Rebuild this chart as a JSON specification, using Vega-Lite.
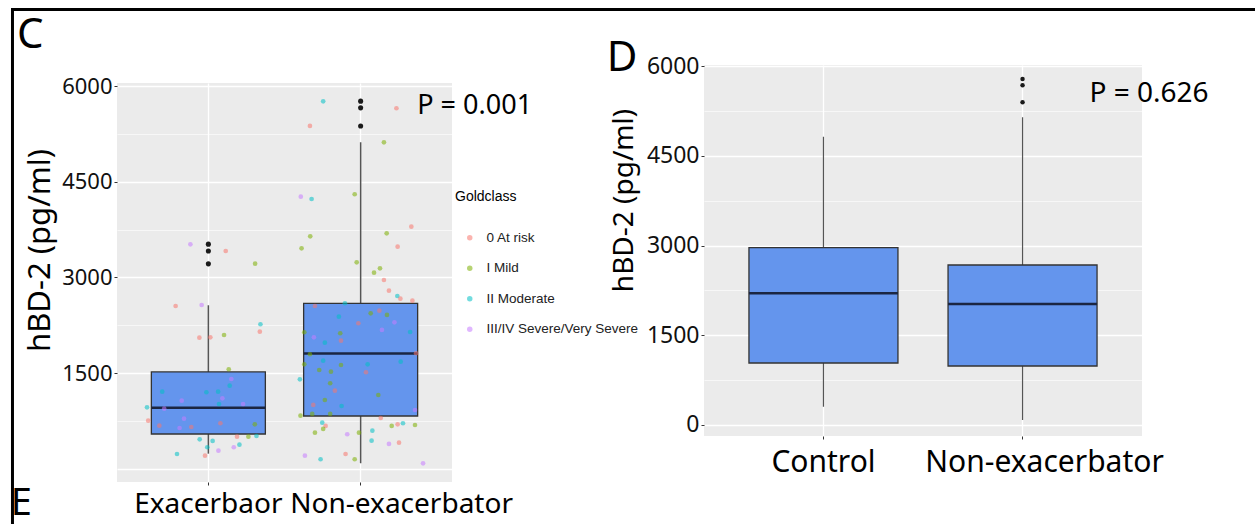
{
  "$schema": "https://vega.github.io/schema/vega-lite/v6.json",
  "background": "white",
  "padding": {"left": 9, "top": 8, "right": 0, "bottom": 0},
  "config": {
    "view": {"stroke": null},
    "font": "Noto Sans",
    "axis": {"labelFont": "Noto Sans", "titleFont": "Noto Sans", "titleFontWeight": "normal", "labelColor": "#111111", "titleColor": "#000000", "domain": false, "tickColor": "#333333", "tickSize": 3, "gridColor": "#FFFFFF", "labelLimit": 0}
  },
  "datasets": {
    "cBoxes": [
      {"group": "Exacerbaor", "lower": 240, "q1": 548, "median": 958, "q3": 1520, "upper": 2565},
      {"group": "Non-exacerbator", "lower": 89, "q1": 830, "median": 1810, "q3": 2596, "upper": 5120}
    ],
    "cOutliers": [
      {"group": "Exacerbaor", "value": 3522},
      {"group": "Exacerbaor", "value": 3415},
      {"group": "Exacerbaor", "value": 3214},
      {"group": "Non-exacerbator", "value": 5763},
      {"group": "Non-exacerbator", "value": 5658},
      {"group": "Non-exacerbator", "value": 5374}
    ],
    "cPoints": [
      {"group": "Exacerbaor", "jitter": -0.118, "value": 3520, "gold": "III/IV Severe/Very Severe"},
      {"group": "Exacerbaor", "jitter": 0.114, "value": 3415, "gold": "0 At risk"},
      {"group": "Exacerbaor", "jitter": 0.307, "value": 3217, "gold": "I Mild"},
      {"group": "Exacerbaor", "jitter": -0.215, "value": 2553, "gold": "0 At risk"},
      {"group": "Exacerbaor", "jitter": -0.044, "value": 2569, "gold": "III/IV Severe/Very Severe"},
      {"group": "Exacerbaor", "jitter": 0.342, "value": 2267, "gold": "II Moderate"},
      {"group": "Exacerbaor", "jitter": 0.338, "value": 2151, "gold": "0 At risk"},
      {"group": "Exacerbaor", "jitter": 0.103, "value": 2099, "gold": "I Mild"},
      {"group": "Exacerbaor", "jitter": -0.059, "value": 2057, "gold": "0 At risk"},
      {"group": "Exacerbaor", "jitter": 0.013, "value": 2063, "gold": "0 At risk"},
      {"group": "Exacerbaor", "jitter": 0.134, "value": 1562, "gold": "I Mild"},
      {"group": "Exacerbaor", "jitter": 0.151, "value": 1410, "gold": "III/IV Severe/Very Severe"},
      {"group": "Exacerbaor", "jitter": -0.303, "value": 1211, "gold": "II Moderate"},
      {"group": "Exacerbaor", "jitter": -0.013, "value": 1202, "gold": "II Moderate"},
      {"group": "Exacerbaor", "jitter": 0.064, "value": 1211, "gold": "II Moderate"},
      {"group": "Exacerbaor", "jitter": 0.14, "value": 1305, "gold": "II Moderate"},
      {"group": "Exacerbaor", "jitter": 0.092, "value": 1107, "gold": "III/IV Severe/Very Severe"},
      {"group": "Exacerbaor", "jitter": -0.175, "value": 1070, "gold": "III/IV Severe/Very Severe"},
      {"group": "Exacerbaor", "jitter": 0.07, "value": 1018, "gold": "II Moderate"},
      {"group": "Exacerbaor", "jitter": 0.228, "value": 1018, "gold": "III/IV Severe/Very Severe"},
      {"group": "Exacerbaor", "jitter": -0.403, "value": 966, "gold": "II Moderate"},
      {"group": "Exacerbaor", "jitter": -0.29, "value": 945, "gold": "III/IV Severe/Very Severe"},
      {"group": "Exacerbaor", "jitter": -0.395, "value": 757, "gold": "0 At risk"},
      {"group": "Exacerbaor", "jitter": -0.16, "value": 788, "gold": "III/IV Severe/Very Severe"},
      {"group": "Exacerbaor", "jitter": 0.079, "value": 716, "gold": "0 At risk"},
      {"group": "Exacerbaor", "jitter": -0.322, "value": 679, "gold": "0 At risk"},
      {"group": "Exacerbaor", "jitter": -0.189, "value": 642, "gold": "III/IV Severe/Very Severe"},
      {"group": "Exacerbaor", "jitter": -0.112, "value": 658, "gold": "0 At risk"},
      {"group": "Exacerbaor", "jitter": 0.305, "value": 700, "gold": "I Mild"},
      {"group": "Exacerbaor", "jitter": 0.188, "value": 506, "gold": "0 At risk"},
      {"group": "Exacerbaor", "jitter": 0.263, "value": 506, "gold": "I Mild"},
      {"group": "Exacerbaor", "jitter": 0.316, "value": 517, "gold": "II Moderate"},
      {"group": "Exacerbaor", "jitter": -0.057, "value": 465, "gold": "II Moderate"},
      {"group": "Exacerbaor", "jitter": 0.028, "value": 439, "gold": "II Moderate"},
      {"group": "Exacerbaor", "jitter": -0.007, "value": 340, "gold": "II Moderate"},
      {"group": "Exacerbaor", "jitter": 0.066, "value": 287, "gold": "III/IV Severe/Very Severe"},
      {"group": "Exacerbaor", "jitter": 0.167, "value": 340, "gold": "III/IV Severe/Very Severe"},
      {"group": "Exacerbaor", "jitter": 0.204, "value": 381, "gold": "II Moderate"},
      {"group": "Exacerbaor", "jitter": -0.206, "value": 235, "gold": "II Moderate"},
      {"group": "Exacerbaor", "jitter": -0.022, "value": 208, "gold": "0 At risk"},
      {"group": "Non-exacerbator", "jitter": -0.246, "value": 5760, "gold": "II Moderate"},
      {"group": "Non-exacerbator", "jitter": 0.235, "value": 5651, "gold": "0 At risk"},
      {"group": "Non-exacerbator", "jitter": -0.333, "value": 5374, "gold": "0 At risk"},
      {"group": "Non-exacerbator", "jitter": 0.153, "value": 5118, "gold": "I Mild"},
      {"group": "Non-exacerbator", "jitter": -0.393, "value": 4266, "gold": "III/IV Severe/Very Severe"},
      {"group": "Non-exacerbator", "jitter": -0.322, "value": 4230, "gold": "II Moderate"},
      {"group": "Non-exacerbator", "jitter": -0.039, "value": 4304, "gold": "I Mild"},
      {"group": "Non-exacerbator", "jitter": 0.333, "value": 3796, "gold": "0 At risk"},
      {"group": "Non-exacerbator", "jitter": 0.171, "value": 3692, "gold": "I Mild"},
      {"group": "Non-exacerbator", "jitter": -0.331, "value": 3645, "gold": "I Mild"},
      {"group": "Non-exacerbator", "jitter": 0.243, "value": 3483, "gold": "0 At risk"},
      {"group": "Non-exacerbator", "jitter": -0.388, "value": 3457, "gold": "I Mild"},
      {"group": "Non-exacerbator", "jitter": -0.026, "value": 3238, "gold": "I Mild"},
      {"group": "Non-exacerbator", "jitter": 0.088, "value": 3075, "gold": "I Mild"},
      {"group": "Non-exacerbator", "jitter": 0.127, "value": 3144, "gold": "I Mild"},
      {"group": "Non-exacerbator", "jitter": 0.153, "value": 2961, "gold": "0 At risk"},
      {"group": "Non-exacerbator", "jitter": 0.186, "value": 2793, "gold": "0 At risk"},
      {"group": "Non-exacerbator", "jitter": 0.241, "value": 2710, "gold": "II Moderate"},
      {"group": "Non-exacerbator", "jitter": 0.261, "value": 2668, "gold": "0 At risk"},
      {"group": "Non-exacerbator", "jitter": 0.34, "value": 2637, "gold": "0 At risk"},
      {"group": "Non-exacerbator", "jitter": -0.3, "value": 2553, "gold": "0 At risk"},
      {"group": "Non-exacerbator", "jitter": -0.103, "value": 2596, "gold": "II Moderate"},
      {"group": "Non-exacerbator", "jitter": -0.143, "value": 2386, "gold": "II Moderate"},
      {"group": "Non-exacerbator", "jitter": 0.066, "value": 2439, "gold": "I Mild"},
      {"group": "Non-exacerbator", "jitter": 0.123, "value": 2480, "gold": "0 At risk"},
      {"group": "Non-exacerbator", "jitter": 0.173, "value": 2413, "gold": "I Mild"},
      {"group": "Non-exacerbator", "jitter": -0.015, "value": 2283, "gold": "0 At risk"},
      {"group": "Non-exacerbator", "jitter": 0.222, "value": 2298, "gold": "III/IV Severe/Very Severe"},
      {"group": "Non-exacerbator", "jitter": 0.14, "value": 2178, "gold": "III/IV Severe/Very Severe"},
      {"group": "Non-exacerbator", "jitter": 0.325, "value": 2146, "gold": "II Moderate"},
      {"group": "Non-exacerbator", "jitter": -0.37, "value": 2142, "gold": "I Mild"},
      {"group": "Non-exacerbator", "jitter": -0.307, "value": 2063, "gold": "III/IV Severe/Very Severe"},
      {"group": "Non-exacerbator", "jitter": -0.134, "value": 2126, "gold": "I Mild"},
      {"group": "Non-exacerbator", "jitter": -0.129, "value": 2010, "gold": "0 At risk"},
      {"group": "Non-exacerbator", "jitter": -0.235, "value": 1979, "gold": "II Moderate"},
      {"group": "Non-exacerbator", "jitter": -0.333, "value": 1797, "gold": "I Mild"},
      {"group": "Non-exacerbator", "jitter": 0.364, "value": 1813, "gold": "0 At risk"},
      {"group": "Non-exacerbator", "jitter": -0.246, "value": 1697, "gold": "II Moderate"},
      {"group": "Non-exacerbator", "jitter": -0.37, "value": 1640, "gold": "I Mild"},
      {"group": "Non-exacerbator", "jitter": -0.272, "value": 1551, "gold": "I Mild"},
      {"group": "Non-exacerbator", "jitter": -0.195, "value": 1524, "gold": "I Mild"},
      {"group": "Non-exacerbator", "jitter": -0.129, "value": 1629, "gold": "I Mild"},
      {"group": "Non-exacerbator", "jitter": 0.046, "value": 1640, "gold": "II Moderate"},
      {"group": "Non-exacerbator", "jitter": 0.263, "value": 1681, "gold": "II Moderate"},
      {"group": "Non-exacerbator", "jitter": 0.035, "value": 1515, "gold": "0 At risk"},
      {"group": "Non-exacerbator", "jitter": -0.399, "value": 1405, "gold": "II Moderate"},
      {"group": "Non-exacerbator", "jitter": -0.2, "value": 1343, "gold": "I Mild"},
      {"group": "Non-exacerbator", "jitter": -0.169, "value": 1227, "gold": "0 At risk"},
      {"group": "Non-exacerbator", "jitter": 0.116, "value": 1159, "gold": "I Mild"},
      {"group": "Non-exacerbator", "jitter": -0.235, "value": 1081, "gold": "I Mild"},
      {"group": "Non-exacerbator", "jitter": -0.311, "value": 1003, "gold": "0 At risk"},
      {"group": "Non-exacerbator", "jitter": -0.125, "value": 987, "gold": "II Moderate"},
      {"group": "Non-exacerbator", "jitter": -0.395, "value": 835, "gold": "I Mild"},
      {"group": "Non-exacerbator", "jitter": -0.318, "value": 862, "gold": "I Mild"},
      {"group": "Non-exacerbator", "jitter": -0.2, "value": 862, "gold": "I Mild"},
      {"group": "Non-exacerbator", "jitter": 0.357, "value": 924, "gold": "III/IV Severe/Very Severe"},
      {"group": "Non-exacerbator", "jitter": 0.132, "value": 799, "gold": "0 At risk"},
      {"group": "Non-exacerbator", "jitter": -0.252, "value": 725, "gold": "II Moderate"},
      {"group": "Non-exacerbator", "jitter": -0.23, "value": 674, "gold": "0 At risk"},
      {"group": "Non-exacerbator", "jitter": -0.246, "value": 627, "gold": "I Mild"},
      {"group": "Non-exacerbator", "jitter": -0.3, "value": 569, "gold": "I Mild"},
      {"group": "Non-exacerbator", "jitter": -0.088, "value": 544, "gold": "III/IV Severe/Very Severe"},
      {"group": "Non-exacerbator", "jitter": -0.011, "value": 569, "gold": "I Mild"},
      {"group": "Non-exacerbator", "jitter": 0.077, "value": 600, "gold": "II Moderate"},
      {"group": "Non-exacerbator", "jitter": 0.204, "value": 674, "gold": "I Mild"},
      {"group": "Non-exacerbator", "jitter": 0.243, "value": 700, "gold": "0 At risk"},
      {"group": "Non-exacerbator", "jitter": 0.278, "value": 716, "gold": "II Moderate"},
      {"group": "Non-exacerbator", "jitter": 0.357, "value": 689, "gold": "I Mild"},
      {"group": "Non-exacerbator", "jitter": 0.072, "value": 444, "gold": "II Moderate"},
      {"group": "Non-exacerbator", "jitter": 0.186, "value": 392, "gold": "III/IV Severe/Very Severe"},
      {"group": "Non-exacerbator", "jitter": 0.252, "value": 412, "gold": "0 At risk"},
      {"group": "Non-exacerbator", "jitter": -0.366, "value": 208, "gold": "III/IV Severe/Very Severe"},
      {"group": "Non-exacerbator", "jitter": -0.263, "value": 152, "gold": "II Moderate"},
      {"group": "Non-exacerbator", "jitter": -0.099, "value": 235, "gold": "0 At risk"},
      {"group": "Non-exacerbator", "jitter": -0.039, "value": 152, "gold": "I Mild"},
      {"group": "Non-exacerbator", "jitter": 0.41, "value": 89, "gold": "III/IV Severe/Very Severe"}
    ],
    "dBoxes": [
      {"group": "Control", "lower": 306, "q1": 1036, "median": 2201, "q3": 2963, "upper": 4819},
      {"group": "Non-exacerbator", "lower": 84, "q1": 986, "median": 2022, "q3": 2674, "upper": 5143}
    ],
    "dOutliers": [
      {"group": "Non-exacerbator", "value": 5783},
      {"group": "Non-exacerbator", "value": 5677},
      {"group": "Non-exacerbator", "value": 5393}
    ]
  },
  "bounds": "flush",
  "spacing": 587,
  "resolve": {"scale": {"x": "independent", "y": "independent", "xOffset": "independent"}},
  "hconcat": [
    {
      "bounds": "flush",
      "spacing": 0,
      "vconcat": [
        {"width": 335, "height": 18, "data": {"values": []}, "mark": "point"},
        {
          "width": 335,
          "height": 399,
          "view": {"fill": "#EBEBEB", "stroke": null},
          "resolve": {"scale": {"x": "independent"}, "axis": {"x": "independent"}},
          "layer": [
            {
              "encoding": {
                "x": {
                  "field": "group", "type": "nominal",
                  "scale": {"domain": ["Exacerbaor", "Non-exacerbator"], "paddingInner": 0, "paddingOuter": 0.1},
                  "axis": {
                    "title": null, "labelAngle": 0, "labelFontSize": 28, "labelColor": "#000000", "labelPadding": 5,
                    "grid": true, "gridWidth": 1.3,
                    "labelOffset": {"condition": {"test": "datum.value == 'Non-exacerbator'", "value": 41}, "value": 0}
                  }
                }
              },
              "layer": [
                {
                  "data": {"name": "cBoxes"},
                  "mark": {"type": "rule", "color": "#555555", "strokeWidth": 1.5},
                  "encoding": {
                    "y": {
                      "field": "lower", "type": "quantitative",
                      "scale": {"domain": [-204, 6047], "nice": false, "zero": false},
                      "axis": {
                        "values": [0, 750, 1500, 2250, 3000, 3750, 4500, 5250, 6000],
                        "format": "d",
                        "labelExpr": "(datum.value % 1500 == 0 && datum.value > 0) ? datum.label : ''",
                        "tickOpacity": {"condition": {"test": "datum.value % 1500 == 0 && datum.value > 0", "value": 1}, "value": 0},
                        "gridWidth": {"condition": {"test": "datum.value % 1500 == 0", "value": 1.3}, "value": 0.6},
                        "labelFontSize": 22, "labelPadding": 2,
                        "title": "hBD-2 (pg/ml)", "titleFontSize": 31, "titlePadding": 5, "titleY": 167
                      }
                    },
                    "y2": {"field": "upper"}
                  }
                },
                {
                  "data": {"name": "cBoxes"},
                  "mark": {"type": "bar", "width": 114, "fill": "#6495ED", "stroke": "#333333", "strokeWidth": 1.3},
                  "encoding": {"y": {"field": "q1", "type": "quantitative"}, "y2": {"field": "q3"}}
                },
                {
                  "data": {"name": "cBoxes"},
                  "mark": {"type": "tick", "size": 114, "thickness": 2.5, "color": "#1B2642", "opacity": 1},
                  "encoding": {"y": {"field": "median", "type": "quantitative"}}
                },
                {
                  "data": {"name": "cOutliers"},
                  "mark": {"type": "circle", "size": 26, "color": "#1A1A1A", "opacity": 1},
                  "encoding": {"y": {"field": "value", "type": "quantitative"}}
                },
                {
                  "data": {"name": "cPoints"},
                  "mark": {"type": "circle", "size": 22, "opacity": 0.55},
                  "encoding": {
                    "y": {"field": "value", "type": "quantitative"},
                    "xOffset": {"field": "jitter", "type": "quantitative", "scale": {"domain": [-0.5, 0.5]}},
                    "color": {
                      "field": "gold", "type": "nominal",
                      "scale": {"domain": ["0 At risk", "I Mild", "II Moderate", "III/IV Severe/Very Severe"], "range": ["#F8766D", "#7CAE00", "#00BFC4", "#C77CFF"]},
                      "legend": {
                        "title": "Goldclass", "orient": "none", "legendX": 338, "legendY": 125, "padding": 0,
                        "titleFont": "Liberation Sans", "titleFontSize": 14, "titleFontWeight": "normal", "titleColor": "#000000", "titlePadding": 27,
                        "labelFont": "Liberation Sans", "labelFontSize": 13.5, "labelColor": "#222222",
                        "symbolType": "circle", "symbolSize": 30, "rowPadding": 15.5, "labelOffset": 10, "symbolOffset": 8
                      }
                    }
                  }
                },
                {
                  "data": {"values": [{}]},
                  "mark": {"type": "text", "fontSize": 27, "align": "center", "baseline": "middle", "color": "#000000"},
                  "encoding": {"x": {"datum": "Non-exacerbator"}, "xOffset": {"datum": 0.749}, "y": {"datum": 5687}, "text": {"value": "P = 0.001"}}
                },
                {
                  "data": {"values": [{}]},
                  "mark": {"type": "text", "fontSize": 42, "align": "center", "baseline": "middle", "color": "#000000"},
                  "encoding": {"x": {"datum": "Exacerbaor"}, "xOffset": {"datum": -1.169}, "y": {"datum": 6799}, "text": {"value": "C"}}
                },
                {
                  "data": {"values": [{}]},
                  "mark": {"type": "text", "fontSize": 38, "align": "center", "baseline": "middle", "color": "#000000"},
                  "encoding": {"x": {"datum": "Exacerbaor"}, "xOffset": {"datum": -1.228}, "y": {"datum": -548}, "text": {"value": "E"}}
                }
              ]
            },
            {
              "data": {"values": [{}]},
              "mark": {"type": "rule", "color": "#000000", "strokeWidth": 3},
              "encoding": {
                "x": {"datum": -0.3164, "type": "quantitative", "scale": {"domain": [0, 1]}, "axis": null},
                "x2": {"datum": 3.4},
                "y": {"datum": 7198, "type": "quantitative"}
              }
            },
            {
              "data": {"values": [{}]},
              "mark": {"type": "rule", "color": "#000000", "strokeWidth": 3},
              "encoding": {
                "x": {"datum": -0.312, "type": "quantitative", "scale": {"domain": [0, 1]}, "axis": null},
                "y": {"datum": 7198, "type": "quantitative"},
                "y2": {"datum": -862}
              }
            }
          ]
        }
      ]
    },
    {
      "width": 438,
      "height": 371,
      "view": {"fill": "#EBEBEB", "stroke": null},
      "encoding": {
        "x": {
          "field": "group", "type": "nominal",
          "scale": {"domain": ["Control", "Non-exacerbator"], "paddingInner": 0, "paddingOuter": 0.1},
          "axis": {
            "title": null, "labelAngle": 0, "labelFontSize": 30, "labelColor": "#000000", "labelPadding": 8,
            "grid": true, "gridWidth": 1.3,
            "labelOffset": {"condition": {"test": "datum.value == 'Non-exacerbator'", "value": 22}, "value": 0}
          }
        }
      },
      "layer": [
        {
          "data": {"name": "dBoxes"},
          "mark": {"type": "rule", "color": "#555555", "strokeWidth": 1.2},
          "encoding": {
            "y": {
              "field": "lower", "type": "quantitative",
              "scale": {"domain": [-184, 6017], "nice": false, "zero": false},
              "axis": {
                "values": [0, 750, 1500, 2250, 3000, 3750, 4500, 5250, 6000],
                "format": "d",
                "labelExpr": "datum.value % 1500 == 0 ? datum.label : ''",
                "tickOpacity": {"condition": {"test": "datum.value % 1500 == 0", "value": 1}, "value": 0},
                "gridWidth": {"condition": {"test": "datum.value % 1500 == 0", "value": 1.3}, "value": 0.6},
                "labelFontSize": 23, "labelPadding": 2,
                "title": "hBD-2 (pg/ml)", "titleFontSize": 28, "titlePadding": 8, "titleY": 135
              }
            },
            "y2": {"field": "upper"}
          }
        },
        {
          "data": {"name": "dBoxes"},
          "mark": {"type": "bar", "width": 149, "fill": "#6495ED", "stroke": "#333333", "strokeWidth": 1.3},
          "encoding": {"y": {"field": "q1", "type": "quantitative"}, "y2": {"field": "q3"}}
        },
        {
          "data": {"name": "dBoxes"},
          "mark": {"type": "tick", "size": 149, "thickness": 2.5, "color": "#1B2642", "opacity": 1},
          "encoding": {"y": {"field": "median", "type": "quantitative"}}
        },
        {
          "data": {"name": "dOutliers"},
          "mark": {"type": "circle", "size": 20, "color": "#1A1A1A", "opacity": 1},
          "encoding": {"y": {"field": "value", "type": "quantitative"}}
        },
        {
          "data": {"values": [{}]},
          "mark": {"type": "text", "fontSize": 28, "align": "center", "baseline": "middle", "color": "#000000"},
          "encoding": {"x": {"datum": "Non-exacerbator"}, "xOffset": {"datum": 0.635, "scale": {"domain": [-0.5, 0.5]}}, "y": {"datum": 5532}, "text": {"value": "P = 0.626"}}
        },
        {
          "data": {"values": [{}]},
          "mark": {"type": "text", "fontSize": 42, "align": "center", "baseline": "middle", "color": "#000000"},
          "encoding": {"x": {"datum": "Control"}, "xOffset": {"datum": -1.012}, "y": {"datum": 6134}, "text": {"value": "D"}}
        }
      ]
    }
  ]
}
